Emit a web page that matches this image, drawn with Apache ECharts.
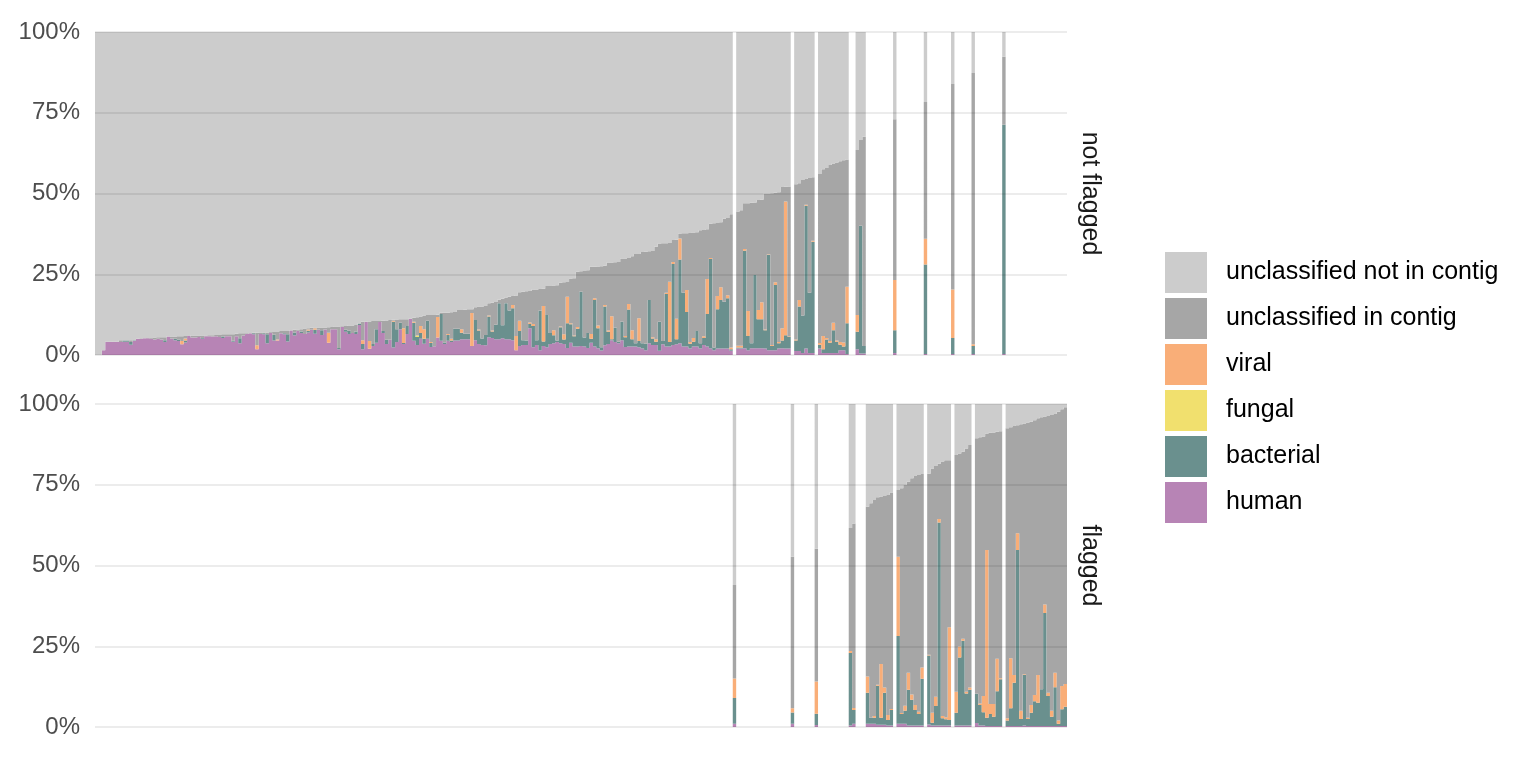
<!DOCTYPE html>
<html>
<head>
<meta charset="utf-8">
<script src="https://cdn.jsdelivr.net/npm/echarts/dist/echarts.min.js"></script>
<style>
html,body{margin:0;padding:0;background:#fff;}
#chart{width:1536px;height:768px;}
</style>
</head>
<body>
<div id="chart"></div>
<script>
// ---- values (percent of reads per sample, samples in plot order) ----
const human = [
0,0,1.5,4.1,4.1,4.1,4.1,4.0,4.1,4.1,
3.2,4.4,5.0,5.0,5.2,5.2,5.0,4.8,5.0,4.8,
4.0,5.7,5.1,4.6,4.3,3.3,3.9,5.9,5.4,5.4,
5.6,5.0,5.8,5.8,5.7,5.8,5.6,5.3,5.8,5.8,
4.1,5.8,3.6,6.0,6.5,6.7,6.4,1.8,6.5,6.4,
3.6,6.9,4.5,4.5,6.7,6.4,4.2,7.6,6.0,7.5,
6.8,6.5,7.0,7.8,6.6,7.8,6.2,7.9,3.8,8.0,
8.0,1.8,8.7,7.2,6.5,6.8,6.5,9.3,1.8,10.2,
1.9,2.8,3.8,10.2,6.8,3.4,4.7,2.3,4.0,8.0,
3.4,6.5,11.2,4.4,3.1,5.0,3.5,5.0,2.5,2.7,
5.4,4.4,3.4,4.4,4.0,4.5,4.5,4.9,4.9,4.9,
2.8,4.6,3.4,3.1,3.0,5.5,5.3,4.9,4.9,5.2,
4.9,4.9,4.6,1.5,2.8,3.1,3.1,8.3,2.4,3.1,
1.5,2.8,2.4,3.4,3.6,4.0,3.6,3.4,2.2,3.8,
2.6,2.6,2.8,2.6,2.2,3.8,2.6,2.1,1.4,3.0,
3.4,4.6,4.0,3.6,4.6,2.5,2.6,2.6,2.6,2.4,
2.0,1.5,3.6,3.1,3.1,1.3,3.3,2.6,2.6,3.1,
3.3,3.6,2.6,2.6,2.0,2.6,2.6,2.0,3.1,2.6,
2.0,1.5,2.0,2.0,2.0,2.0,1.3,
1.0,
2.0,2.0,2.1,1.5,2.1,2.1,2.1,2.1,2.0,1.5,1.5,1.5,2.0,2.1,2.0,2.0,
1.0,
1.2,1.2,0.6,2.0,0.6,0.6,
0.6,
2.0,0.6,0.6,0.6,0.6,0.6,1.5,1.5,0.3,
0.5,1.0,
1.8,0.5,0.5,
1.0,1.0,1.0,0.7,0.7,0.7,0.5,0.5,
0.6,
1.0,1.0,1.0,0.5,0.5,0.5,0.5,0.5,
0.3,
0.8,0.5,0.5,0.5,0.5,0.5,0.5,
0.3,
0.5,0.5,0.5,0.5,0.5,
0.3,
1.2,0.5,0.5,0.3,0.3,0.3,0.3,0.3,
0.3,
0.3,0.3,0.3,0.3,0.3,0.5,0.3,0.3,0.3,0.3,0.3,0.3,0.3,0.3,0.3,0.3,0.3,0.3
];
const bacterial = [
0,0,0,0,0,0,0,0,0.4,0.4,
0.8,0.2,0,0,0,0,0,0,0,0,
0.6,0,0,0.4,0.5,0,0.6,0,0,0,
0,0.3,0,0,0,0,0,0.4,0,0,
0.3,0,1.6,0,0,0,0.3,0,0,0.3,
2.8,0,1.8,0,0,0.3,2.2,0,1.0,0,
0.5,0,0.5,0,1.2,0,1.5,0,0,0,
0,0.4,0,0.6,1.0,0,0.8,0.4,1.6,0,
0,0.6,4.2,0,0.6,1.3,0,8.0,4.0,2.0,
0.3,2.5,0,5.6,2.5,1.8,1.5,5.6,1.2,0,
0,8.3,0.5,1.8,0.5,3.6,3.6,2.0,1.7,1.7,
0,6.2,4.2,2.0,3.2,6.4,2.0,4.5,11.1,4.0,
11.1,8.9,9.9,0,4.6,1.5,1.4,1.3,6.6,1.5,
12.2,1.4,10.0,3.4,2.5,0.5,5.0,1.4,7.6,5.7,
3.2,5.5,16.8,2.8,4.6,1.2,14.4,6.2,1.0,12.0,
3.8,0.3,4.4,0.5,5.7,3.0,11.5,2.3,1.0,1.9,
1.6,2.0,13.4,2.0,1.0,9.0,1.0,16.3,1.4,25.1,
1.6,26.0,16.7,10.7,1.5,1.5,4.8,1.6,2.2,10.1,
27.7,0.8,12.2,15.0,14.5,15.6,0.5,
8.0,
0.3,0.3,30.2,4.4,1.5,22.7,9.0,9.0,5.7,29.5,1.3,20.2,1.6,2.4,4.1,3.7,
3.5,
3.3,13.8,11.6,44.2,18.7,34.5,
3.5,
1.2,1.2,4.2,3.2,7.1,3.5,1.7,1.1,9.5,
22.4,4.3,
5.4,39.5,2.3,
9.6,1.9,1.9,12.1,2.2,9.9,1.7,4.8,
7.1,
27.2,3.0,4.0,11.0,7.9,4.8,3.5,14.4,
27.7,
21.3,0.8,6.0,62.8,2.2,1.9,1.7,
5.0,
3.9,21.0,26.2,9.9,11.0,
2.5,
9.1,6.3,4.1,2.6,3.7,2.9,10.8,14.5,
71.0,
1.7,5.5,13.4,54.5,2.2,15.6,2.2,4.1,7.7,7.2,11.4,35.0,9.3,2.9,12.0,0.7,5.2,6.0
];
const fungal = [
0,0,0,0,0,0,0,0,0,0,
0,0,0,0,0,0,0,0,0,0,
0,0,0,0,0,0,0,0,0,0,
0,0,0,0,0,0,0,0,0,0,
0,0,0,0,0,0,0,0,0,0,
0,0,0,0,0,0,0,0,0,0,
0,0,0,0,0,0,0,0,0,0,
0,0,0,0,0,0,0,0,0,0,
0,0,0,0,0,0,0,0,0,0,
0,0,0,0,0.4,0,0,0,0,0,
0,0,0,0,0,0,0,0,0,0,
0,0,0,0,0,0,0,0,0,0,
0,0,0,0,0,0,0,0,0,0,
0,0,0,0,0,0,0,0,0,0,
0,0,0,0,0,0,0,0,0,0,
0,0,0,0,0,0,0,0,0,0,
0,0,0,0,0,0,0,0,0,0,
0,0,0,0,0,0,0,0,0,0,
0,0,0,0,0,0,0,0,0,0,
0,0,0,0,0,0,0,0,0,0,
0,0,0,0,0,0,0,0,0,0,
0,0,0,0,0,0,0,0,0,0,
0,0,0,0,0,0,0,0,0,0,
0,0,0,0,0,0,0,0,0,0,
0,0,0,0,0,0,0,0,0,0,
0,0,0,0,0,0,0,0,0,0,
0,0,0,0,0,0,0,0,0,0,
0,0,0,0,0,0,0,0,0,0,
0,0,0,0,0
];
const viral = [
0,0,0,0,0,0,0,0,0,0,
0,0,0,0,0,0,0,0,0,0,
0,0,0,0,0,1.0,0.6,0,0,0,
0,0,0,0,0,0,0,0,0,0,
0,0,0,0,0,0,0,1.2,0,0,
0,0,0,0.3,0,0,0,0,0,0,
0,0,0.4,0,0.5,0,0,0,3.1,0,
0,0,0,0,0,0,0,0,1.2,0,
2.4,0,0,0,0,0,0,0.3,0,0,
4.6,0,0,0.3,0,2.2,3.0,0,0.3,0,
6.4,0,0,0.3,0.5,0,0,1.1,0,0,
10.2,0,0.3,0,0,0.3,0.3,0,0,0,
0,0,1.0,4.4,3.2,0,0,0.5,0.6,0,
0,11.0,0,0,1.6,0,0.2,1.6,8.2,0.3,
0.2,0.6,0,0,0,1.5,0.6,0.8,0,0.5,
0.4,7.1,0,0,0,0.4,1.7,2.8,0,7.1,
0,0,0,0.4,0.8,0,0,0.4,18.7,0.6,
6.3,6.5,0,6.8,0.5,1.2,0,0,0.5,10.8,
0.3,0,4.1,4.0,0,0.9,0.5,
6.0,
0.6,0.6,0.5,7.7,0,0,2.8,5.2,0.2,0.2,0.3,0.8,0.4,3.8,41.4,0.2,
1.3,
0.3,2.0,0,0.3,0,0.3,
10.0,
0.5,4.1,0.5,0.5,2.3,0.4,0.8,1.3,11.3,
0.6,0.6,
5.2,0,0,
5.0,0,0.5,0.3,16.6,1.6,1.5,0.3,
15.5,
24.5,0.3,1.6,5.3,1.7,1.5,0.7,3.5,
8.0,
0.3,3.1,2.9,1.1,0.7,0.6,28.7,
15.0,
6.5,3.4,0.6,0.5,0.7,
0.5,
0,0.5,5.0,51.9,3.1,3.9,10.0,0.3,
0,
0.7,15.5,2.4,5.2,2.5,0.2,0.4,2.4,1.9,8.6,0,2.6,1.0,1.8,4.5,1.0,7.2,7.0
];
// top of the "unclassified in contig" band (everything above is "not in contig")
const total = [
0,0,1.5,4.1,4.1,4.1,4.1,4.6,4.6,4.6,
4.6,4.6,5.0,5.2,5.2,5.3,5.3,5.4,5.5,5.5,
5.5,5.7,5.7,5.7,5.8,5.8,5.9,5.9,6.0,6.0,
6.0,6.0,6.0,6.1,6.1,6.2,6.2,6.4,6.4,6.4,
6.4,6.6,6.7,6.7,6.7,6.7,6.9,6.9,7.0,7.0,
7.0,7.1,7.1,7.1,7.4,7.4,7.4,7.7,7.8,7.9,
8.0,8.2,8.3,8.4,8.5,8.5,8.5,8.5,8.6,8.7,
8.8,8.8,8.9,9.0,9.1,9.1,9.3,9.8,10.3,10.3,
10.4,10.5,10.5,10.5,10.6,10.7,10.8,10.9,11.0,11.1,
11.1,11.1,11.3,11.5,11.7,11.9,12.2,12.4,12.4,12.4,
12.5,13.1,13.1,13.1,13.2,13.3,13.9,13.9,14.0,14.2,
14.2,14.8,15.0,15.0,15.2,16.0,16.2,16.4,17.1,17.4,
17.8,18.0,18.3,18.4,19.4,19.6,19.7,19.8,20.3,20.3,
20.4,20.5,21.4,21.4,21.5,21.6,22.4,22.5,22.6,23.7,
23.8,25.8,25.9,26.0,26.2,27.3,27.3,27.4,27.5,27.6,
28.6,28.6,28.7,28.8,29.9,29.9,30.0,30.6,31.3,31.3,
31.9,32.0,32.1,32.2,33.5,34.5,34.6,34.6,34.7,35.6,
35.7,37.6,37.7,37.7,37.8,37.9,38.0,38.6,38.7,38.9,
40.6,40.8,40.9,41.1,42.2,42.4,43.6,
44.0,
44.4,44.8,47.0,47.0,47.1,47.2,48.0,48.1,50.0,50.0,50.1,50.2,50.4,52.0,52.1,52.2,
52.7,
52.9,53.2,54.2,54.5,54.8,55.0,
55.2,
56.0,57.5,57.9,58.8,59.3,59.6,60.0,60.3,60.5,
61.6,63.0,
63.5,66.6,67.6,
68.2,69.3,70.3,71.1,71.4,71.5,71.8,72.6,
73.0,
73.4,73.9,74.9,75.9,77.0,77.7,78.0,78.3,
78.3,
78.4,80.0,80.8,81.5,82.2,82.6,82.6,
83.9,
84.2,84.7,85.2,86.2,87.3,
87.3,
89.4,89.7,89.9,90.9,91.1,91.2,91.4,91.6,
92.3,
92.5,92.8,93.2,93.4,93.7,94.0,94.3,94.5,95.0,95.6,95.9,96.1,96.3,96.6,96.9,97.6,98.4,99.0
];
// samples (by position) that belong to the "flagged" facet
const flagged = [187,204,211,221,222,
226,227,228,229,230,231,232,233,
235,236,237,238,239,240,241,242,
244,245,246,247,248,249,250,
252,253,254,255,256,
258,259,260,261,262,263,264,265,
267,268,269,270,271,272,273,274,275,276,277,278,279,280,281,282,283,284];
const facetNames = ['not flagged', 'flagged'];
const yTicks = [0, 25, 50, 75, 100];
const seriesNames = ['human','bacterial','fungal','viral','unclassified in contig','unclassified not in contig'];
const seriesColors = ['#B784B5','#6A908E','#F1E06E','#F9AE78','#A6A6A6','#CCCCCC'];

// ---- build ----
const categories = total.map((_, i) => 'sample ' + (i + 1));
const flagSet = new Set(flagged);
const val = (arr, i) => (arr[i] || 0);
const classified = total.map((t, i) => val(human, i) + val(bacterial, i) + val(fungal, i) + val(viral, i));
const inContig = total.map((t, i) => Math.max(0, t - classified[i]));
const notInContig = total.map((t, i) => Math.max(0, 100 - Math.max(t, classified[i])));
const comps = [human, bacterial, fungal, viral, inContig, notInContig];

const FONT = "'Liberation Sans', Arial, Helvetica, sans-serif";
const series = [];
[0, 1].forEach(panel => {
  comps.forEach((arr, k) => {
    series.push({
      name: seriesNames[k],
      type: 'bar',
      stack: 'p' + panel,
      xAxisIndex: panel,
      yAxisIndex: panel,
      barWidth: '100%',
      large: true,
      largeThreshold: 1,
      itemStyle: { color: seriesColors[k] },
      data: categories.map((c, i) => ((flagSet.has(i) ? 1 : 0) === panel) ? val(arr, i) : 0)
    });
  });
});

const grids = [
  { left: 95, width: 972, top: 32, height: 323 },
  { left: 95, width: 972, top: 404, height: 323 }
];
const xAxes = [0, 1].map(g => ({
  type: 'category', gridIndex: g, data: categories,
  axisLine: { show: false }, axisTick: { show: false }, axisLabel: { show: false },
  splitLine: { show: false }
}));
const yMain = [0, 1].map(g => ({
  type: 'value', gridIndex: g, min: yTicks[0], max: yTicks[yTicks.length - 1], interval: 25,
  z: 3,
  axisLine: { show: false }, axisTick: { show: false },
  axisLabel: { formatter: v => v + '%', fontSize: 24, color: '#4D4D4D', margin: 15, fontFamily: FONT },
  splitLine: { lineStyle: { color: 'rgba(0,0,0,0.075)', width: 2 } }
}));
const yStrip = [0, 1].map(g => ({
  type: 'value', gridIndex: g, position: 'right', min: 0, max: 100,
  name: facetNames[g], nameLocation: 'middle', nameRotate: -90, nameGap: 10,
  nameTextStyle: { fontSize: 25, color: '#1A1A1A', fontFamily: FONT },
  axisLine: { show: false }, axisTick: { show: false }, axisLabel: { show: false },
  splitLine: { show: false }
}));

const chart = echarts.init(document.getElementById('chart'), null, { renderer: 'canvas' });
chart.setOption({
  animation: false,
  backgroundColor: '#ffffff',
  textStyle: { fontFamily: FONT },
  grid: grids,
  xAxis: xAxes,
  yAxis: yMain.concat(yStrip),
  legend: {
    orient: 'vertical', left: 1160, top: 247,
    itemWidth: 42, itemHeight: 41, itemGap: 5, icon: 'rect',
    selectedMode: false,
    data: seriesNames.slice().reverse(),
    textStyle: { fontSize: 25, color: '#000', fontFamily: FONT, padding: [0, 0, 0, 14] }
  },
  series: series
});
</script>
</body>
</html>
